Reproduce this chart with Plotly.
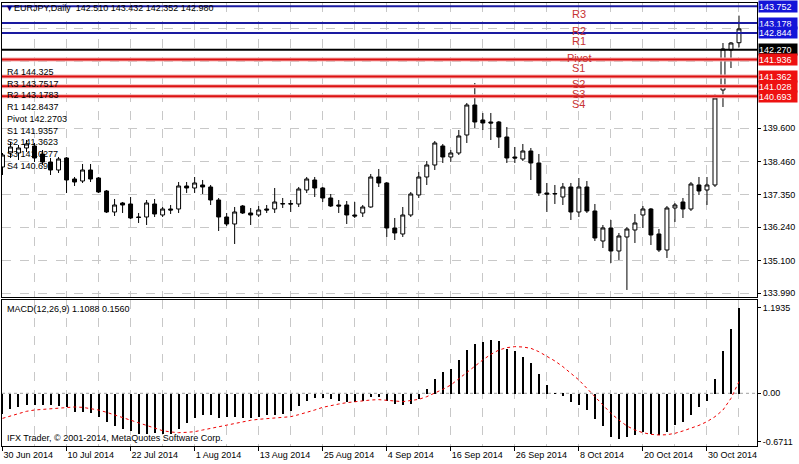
import plotly.graph_objects as go

# ---------------- data ----------------
opens = [138.285, 138.761, 138.761, 138.931, 138.999, 138.727, 138.455, 138.183, 138.591, 137.877,
         137.809, 138.183, 137.911, 137.469, 136.755, 137.061, 137.027, 136.585, 136.585, 137.027,
         136.653, 136.857, 136.857, 137.639, 137.571, 137.673, 137.605, 137.163, 136.585, 136.347,
         136.959, 136.721, 136.653, 136.857, 136.857, 137.027, 137.040, 137.027, 137.503, 137.843,
         137.571, 137.231, 136.993, 136.993, 136.653, 136.721, 136.925, 137.945, 137.741, 136.211,
         136.007, 136.653, 137.333, 137.945, 138.353, 138.999, 138.625, 138.761, 139.373, 140.393,
         139.883, 139.815, 139.815, 139.305, 138.625, 138.557, 138.829, 138.421, 137.401, 137.367,
         137.265, 137.605, 136.755, 137.605, 136.789, 135.769, 136.211, 135.429, 135.905, 136.143,
         136.653, 136.857, 136.007, 135.463, 136.891, 137.095, 136.857, 137.673, 137.503, 137.673,
         140.903, 142.263, 142.510]
highs = [138.761, 139.135, 139.033, 139.203, 139.101, 138.863, 138.591, 138.625, 138.625, 137.945,
         138.387, 138.387, 137.945, 137.503, 137.197, 137.095, 137.265, 136.721, 137.163, 137.197,
         136.925, 136.993, 137.775, 137.775, 137.945, 137.843, 137.673, 137.231, 136.721, 136.925,
         136.993, 136.891, 136.959, 136.993, 137.571, 137.231, 137.163, 137.605, 137.945, 137.945,
         137.605, 137.367, 137.163, 137.129, 137.095, 136.993, 138.047, 138.217, 137.775, 136.551,
         136.925, 137.435, 138.115, 138.489, 139.169, 139.067, 138.863, 139.543, 140.461, 141.141,
         140.121, 140.121, 139.849, 139.645, 138.965, 139.067, 138.931, 138.727, 137.741, 137.673,
         137.741, 137.741, 137.911, 137.809, 137.027, 136.313, 136.483, 136.041, 136.245, 136.687,
         136.959, 136.891, 136.177, 136.959, 137.061, 137.231, 137.775, 137.945, 137.945, 140.767,
         142.501, 142.535, 143.432]
lows = [138.013, 138.591, 138.523, 138.795, 138.455, 138.353, 138.013, 138.081, 137.401, 137.639,
        137.741, 137.775, 137.401, 136.721, 136.619, 136.721, 136.517, 136.381, 136.313, 136.585,
        136.585, 136.687, 136.721, 137.401, 137.401, 137.367, 136.993, 136.109, 136.279, 135.667,
        136.687, 136.313, 136.585, 136.721, 136.721, 136.891, 136.755, 136.925, 137.401, 137.265,
        137.095, 136.925, 136.721, 136.347, 136.551, 136.585, 136.900, 137.605, 135.905, 135.803,
        135.905, 136.585, 137.231, 137.673, 138.183, 138.421, 138.455, 138.693, 139.101, 139.611,
        139.543, 139.203, 138.931, 138.421, 138.421, 138.489, 137.843, 137.299, 136.755, 137.027,
        136.993, 136.483, 136.585, 136.721, 135.769, 135.531, 135.021, 135.123, 134.103, 135.701,
        136.211, 135.633, 135.395, 135.191, 136.415, 136.551, 136.789, 137.333, 136.993, 137.605,
        140.325, 141.651, 142.352]
closes = [138.693, 138.965, 138.931, 139.067, 138.591, 138.455, 138.183, 138.557, 137.843, 137.775,
          138.183, 137.877, 137.435, 136.755, 136.993, 136.993, 136.551, 136.570, 137.061, 136.687,
          136.857, 136.823, 137.639, 137.571, 137.741, 137.605, 137.163, 136.585, 136.347, 136.755,
          136.721, 136.653, 136.823, 136.823, 137.095, 137.040, 137.027, 137.537, 137.877, 137.571,
          137.231, 136.959, 136.959, 136.653, 136.619, 136.925, 137.945, 137.741, 136.211, 136.041,
          136.653, 137.367, 137.945, 138.353, 139.101, 138.625, 138.761, 139.339, 140.393, 139.815,
          139.781, 139.781, 139.305, 138.591, 138.591, 138.829, 138.421, 137.401, 137.367, 137.380,
          137.605, 136.755, 137.605, 136.789, 135.871, 136.211, 135.429, 135.939, 136.177, 136.381,
          136.857, 135.973, 135.463, 136.891, 136.993, 136.857, 137.707, 137.469, 137.673, 140.631,
          142.297, 142.501, 142.980]

macd_main = [-0.278, -0.209, -0.186, -0.149, -0.149, -0.162, -0.162, -0.176, -0.186, -0.255,
             -0.255, -0.269, -0.325, -0.394, -0.454, -0.487, -0.519, -0.556, -0.556, -0.547,
             -0.556, -0.556, -0.487, -0.408, -0.334, -0.288, -0.301, -0.334, -0.325, -0.325,
             -0.334, -0.334, -0.325, -0.301, -0.301, -0.278, -0.241, -0.176, -0.093, -0.056,
             -0.056, -0.070, -0.093, -0.116, -0.107, -0.093, -0.047, -0.047, -0.093, -0.139,
             -0.162, -0.139, -0.070, 0.069, 0.208, 0.300, 0.347, 0.463, 0.611, 0.685,
             0.717, 0.750, 0.731, 0.625, 0.601, 0.509, 0.425, 0.277, 0.129, 0.009,
             -0.024, -0.116, -0.149, -0.223, -0.348, -0.454, -0.602, -0.625, -0.602, -0.579,
             -0.533, -0.556, -0.579, -0.533, -0.440, -0.394, -0.301, -0.186, -0.102, 0.208,
             0.592, 0.903, 1.194]
macd_signal = [-0.348, -0.315, -0.278, -0.250, -0.232, -0.223, -0.213, -0.204, -0.195, -0.190,
               -0.195, -0.209, -0.232, -0.264, -0.301, -0.334, -0.371, -0.412, -0.454, -0.491,
               -0.519, -0.537, -0.547, -0.542, -0.533, -0.510, -0.487, -0.463, -0.440, -0.417,
               -0.394, -0.375, -0.361, -0.352, -0.348, -0.334, -0.325, -0.297, -0.269, -0.232,
               -0.195, -0.167, -0.149, -0.130, -0.116, -0.102, -0.093, -0.088, -0.093, -0.107,
               -0.116, -0.102, -0.084, -0.047, 0.000, 0.055, 0.115, 0.203, 0.300, 0.384,
               0.463, 0.541, 0.601, 0.634, 0.648, 0.643, 0.625, 0.578, 0.518, 0.449,
               0.370, 0.277, 0.185, 0.069, -0.047, -0.167, -0.278, -0.371, -0.454, -0.510,
               -0.547, -0.570, -0.579, -0.575, -0.556, -0.523, -0.487, -0.445, -0.394, -0.325,
               -0.232, -0.070, 0.162]

bars = list(range(len(closes)))

date_tick_bars = [0, 8, 16, 24, 32, 40, 48, 56, 64, 72, 80, 88]
date_tick_labels = ["30 Jun 2014", "10 Jul 2014", "22 Jul 2014", "1 Aug 2014", "13 Aug 2014",
                    "25 Aug 2014", "4 Sep 2014", "16 Sep 2014", "26 Sep 2014", "8 Oct 2014",
                    "20 Oct 2014", "30 Oct 2014"]
grid_minor_bars = [4, 12, 20, 28, 36, 44, 52, 60, 68, 76, 84, 92]

price_ticks = [133.99, 135.10, 136.24, 137.35, 138.46, 139.60]
price_grid_extra = [140.73, 141.87, 143.00]
macd_ticks = [1.1935, 0.0, -0.6711]
macd_tick_labels = ["1.1935", "0.00", "-0.6711"]

pivot_names = ["R4", "R3", "R2", "R1", "Pivot", "S1", "S2", "S3", "S4"]
pivot_values = [144.325, 143.7517, 143.1783, 142.8437, 142.2703, 141.9357, 141.3623, 141.0277, 140.693]

symbol = "EURJPY,Daily"
macd_title = "MACD(12,26,9) 1.1088 0.1560"
copyright_text = "IFX Trader, \u00a9 2001-2014, MetaQuotes Software Corp."

# ---------------- layout helpers ----------------
W, H = 799, 464
ML, MR, MT, MB = 2, 42, 3, 18
PW, PH = W - ML - MR, H - MT - MB


def py(y):
    return (H - MB - y) / PH


def px(x):
    return (x - ML) / PW


FONT = "Liberation Sans, Arial, sans-serif"
BLUE_LINE = "#1a1aa0"
BLUE_BOX = "#1414d8"
RED_LINE = "#dd1111"
RED_HALO = "#f4b4b4"
RED_BOX = "#ee1111"
LABEL_RED = "#c83232"
GRID = "#c8c8c8"

fig = go.Figure()

fig.add_trace(go.Candlestick(
    x=bars, open=opens, high=highs, low=lows, close=closes,
    increasing=dict(line=dict(color="black", width=1), fillcolor="white"),
    decreasing=dict(line=dict(color="black", width=1), fillcolor="black"),
    whiskerwidth=0, hoverinfo="skip", showlegend=False, xaxis="x", yaxis="y"))

fig.add_trace(go.Bar(
    x=bars, y=macd_main, width=0.13, marker=dict(color="black", line=dict(width=0)),
    showlegend=False, hoverinfo="skip", xaxis="x2", yaxis="y2"))

fig.add_trace(go.Scatter(
    x=bars, y=macd_signal, mode="lines",
    line=dict(color="#ee0000", width=1, dash="3px,3px"),
    showlegend=False, hoverinfo="skip", xaxis="x2", yaxis="y2"))

shapes = []
annotations = []
for name, val in zip(pivot_names, pivot_values):
    if name == "R4":
        continue  # above the visible range
    if name.startswith("R"):
        lc, bc = BLUE_LINE, BLUE_BOX
    elif name.startswith("S"):
        lc, bc = RED_LINE, RED_BOX
        shapes.append(dict(type="line", xref="paper", x0=0, x1=1, yref="y", y0=val, y1=val,
                           line=dict(color=RED_HALO, width=4), layer="above"))
    else:
        lc, bc = "black", "black"
    shapes.append(dict(type="line", xref="paper", x0=0, x1=1, yref="y", y0=val, y1=val,
                       line=dict(color=lc, width=2), layer="above"))
    annotations.append(dict(x=1, xref="paper", xanchor="left", xshift=1, y=val, yref="y",
                            yanchor="middle", text=f"{val:.3f}", showarrow=False,
                            bgcolor=bc, width=38, height=11, align="left", borderpad=0,
                            font=dict(family=FONT, size=9, color="white")))
    annotations.append(dict(x=72, xref="x", y=val, yref="y", yanchor="middle", yshift=-8,
                            text=name, showarrow=False,
                            font=dict(family=FONT, size=11, color=LABEL_RED)))

# MACD zero line (dashed)
shapes.append(dict(type="line", xref="x2 domain", x0=0, x1=1, yref="y2", y0=0, y1=0,
                   line=dict(color="#a0a0a0", width=1, dash="3px,3px"), layer="below"))

pivot_list = "<br>".join(f"{n} {v}" for n, v in zip(pivot_names, pivot_values))
annotations.append(dict(x=px(5), xref="paper", xanchor="left", y=py(65), yref="paper",
                        yanchor="top", align="left", text=pivot_list, showarrow=False,
                        font=dict(family=FONT, size=9, color="black")))

ohlc_text = f"{opens[-1]:.3f} {highs[-1]:.3f} {lows[-1]:.3f} {closes[-1]:.3f}"
annotations.append(dict(x=px(3), xref="paper", xanchor="left", y=py(8), yref="paper",
                        yanchor="middle", showarrow=False,
                        text=f"<span style='color:#000080'>\u25bc</span>{symbol}&nbsp; {ohlc_text}",
                        font=dict(family=FONT, size=9, color="black")))
annotations.append(dict(x=px(5), xref="paper", xanchor="left", y=py(309), yref="paper",
                        yanchor="middle", showarrow=False, text=macd_title,
                        font=dict(family=FONT, size=9, color="black")))
annotations.append(dict(x=px(5), xref="paper", xanchor="left", y=py(438), yref="paper",
                        yanchor="middle", showarrow=False, text=copyright_text,
                        font=dict(family=FONT, size=9, color="black")))

x_range = [-0.0625, (PW - 0.5) / 8.0 - 0.0625]
p_top = 143.963 - 0.034002 * 3
p_bot = 143.963 - 0.034002 * 297
m_top = (393.3 - 299.5) / 72.0
m_bot = (393.3 - 446) / 72.0

common_x = dict(range=x_range, showline=True, linecolor="black", linewidth=1, mirror=True,
                tickvals=date_tick_bars, showgrid=True, gridcolor=GRID, griddash="dash",
                gridwidth=1, zeroline=False, automargin=False, fixedrange=True,
                minor=dict(tickvals=grid_minor_bars, showgrid=True, gridcolor=GRID,
                           griddash="dash", gridwidth=1, ticks=""))

fig.update_layout(
    width=W, height=H, margin=dict(l=ML, r=MR, t=MT, b=MB, autoexpand=False),
    paper_bgcolor="white", plot_bgcolor="white", showlegend=False, bargap=0,
    font=dict(family=FONT, size=9, color="black"),
    xaxis=dict(common_x, anchor="y", domain=[0, 1], showticklabels=False, ticks="",
               rangeslider=dict(visible=False), matches="x2"),
    yaxis=dict(domain=[py(297), 1], range=[p_bot, p_top], side="right", anchor="x",
               tickvals=price_ticks, ticktext=[f"{v:.3f}" for v in price_ticks],
               ticks="outside", ticklen=3, tickcolor="black", showline=True, linecolor="black",
               mirror=True, showgrid=True, gridcolor=GRID, griddash="dash", zeroline=False,
               automargin=False, fixedrange=True,
               minor=dict(tickvals=price_grid_extra, showgrid=True, gridcolor=GRID,
                          griddash="dash", ticks=""),
               tickfont=dict(family=FONT, size=9, color="black")),
    xaxis2=dict(common_x, anchor="y2", domain=[0, 1], ticktext=date_tick_labels,
                ticks="outside", ticklen=4, tickcolor="black",
                ticklabelposition="outside right",
                tickfont=dict(family=FONT, size=9, color="black")),
    yaxis2=dict(domain=[0, py(299.5)], range=[m_bot, m_top], side="right", anchor="x2",
                tickvals=macd_ticks, ticktext=macd_tick_labels, ticks="outside", ticklen=3,
                tickcolor="black", showline=True, linecolor="black", mirror=True,
                showgrid=False, zeroline=False, automargin=False, fixedrange=True,
                tickfont=dict(family=FONT, size=9, color="black")),
    shapes=shapes, annotations=annotations,
)

fig.write_html("out.html", config={"displayModeBar": False},
               post_script="document.body.style.margin='0';document.body.style.overflow='hidden';")
